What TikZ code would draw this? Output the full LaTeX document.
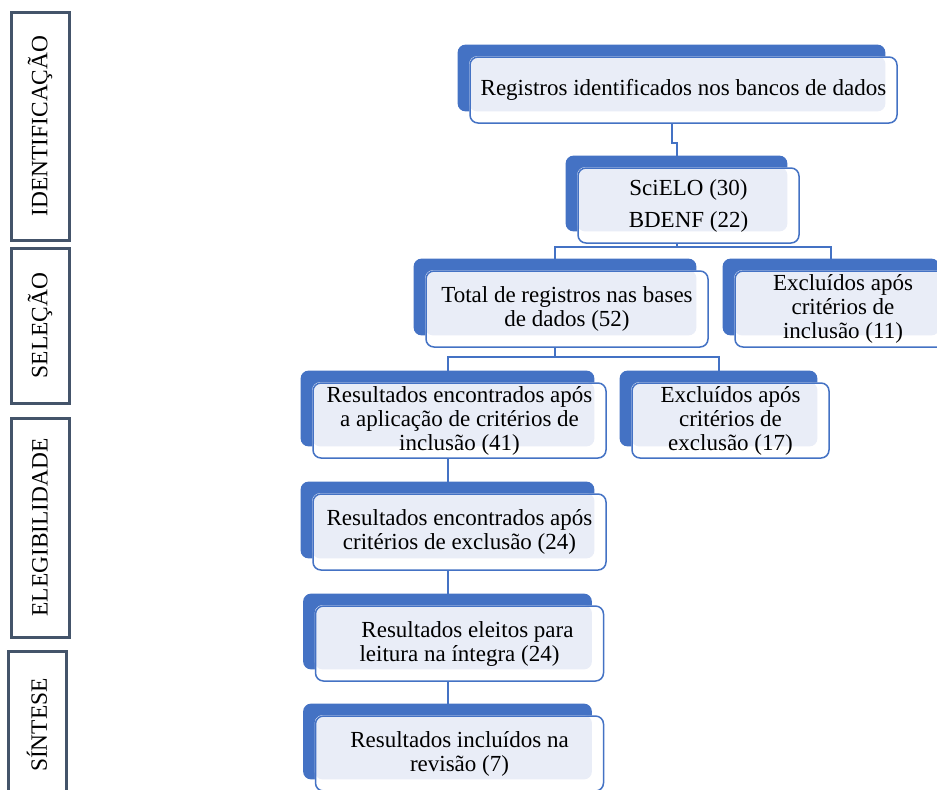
\documentclass[tikz,border=0pt]{standalone}
\usepackage{fontspec}
\setmainfont{Liberation Serif}
\usepackage{xcolor}
\usetikzlibrary{positioning}
\definecolor{boxblue}{HTML}{4472C4}
\definecolor{boxfill}{HTML}{E9EDF7}
\definecolor{slate}{HTML}{44546A}
\pgfdeclarelayer{background}
\pgfsetlayers{background,main}

\begin{document}
\begin{tikzpicture}[x=0.5pt,y=-0.5pt,
	front/.style={draw=boxblue,line width=0.75pt,rounded corners=4pt,align=center,inner sep=0pt,font=\fontsize{11.5}{12}\selectfont},
	back/.style={inner sep=0pt},
	phase/.style={draw=slate,line width=1.5pt,rotate=90,inner sep=0pt,minimum height=29pt,font=\fontsize{11.7}{12}\selectfont},
	link/.style={draw=boxblue,line width=1pt}]
	\useasboundingbox (0,0) rectangle (937,789);
	\clip (0,0) rectangle (937,789);
	% fases
		\node[phase,minimum width=114pt] (ident) at (40,126) {IDENTIFICAÇÃO};
		\node[phase,minimum width=77.5pt] (selec) at (40,325.5) {SELEÇÃO};
		\node[phase,minimum width=109.5pt] (eleg) at (40,527.5) {ELEGIBILIDADE};
		\node[phase,minimum width=74pt] (sint) at (37,725) {SÍNTESE};
	% caixas
		\node[back,minimum width=213.5pt,minimum height=33pt] (reg-b) at (671.5,78) {};
		\node[front,minimum width=213.5pt,minimum height=33pt] (reg) at (683.5,90) {Registros identificados nos bancos de dados};
		\node[back,minimum width=110.5pt,minimum height=37.5pt] (font-b) at (676.5,193.5) {};
		\node[front,minimum width=110.5pt,minimum height=37.5pt] (font) at (688.5,205.5) {SciELO (30)\\[4pt]BDENF (22)};
		\node[back,minimum width=141pt,minimum height=38pt] (total-b) at (555,297) {};
		\node[front,minimum width=141pt,minimum height=38pt] (total) at (567,309) {Total de registros nas bases\\de dados (52)};
		\node[back,minimum width=108pt,minimum height=38pt] (exinc-b) at (831,297) {};
		\node[front,minimum width=108pt,minimum height=38pt] (exinc) at (843,309) {Excluídos após\\critérios de\\inclusão (11)};
		\node[back,minimum width=146.5pt,minimum height=37.5pt] (aplic-b) at (447.5,408.5) {};
		\node[front,minimum width=146.5pt,minimum height=37.5pt] (aplic) at (459.5,420.5) {Resultados encontrados após\\a aplicação de critérios de\\inclusão (41)};
		\node[back,minimum width=98.5pt,minimum height=37.5pt] (exexc-b) at (718.5,408.5) {};
		\node[front,minimum width=98.5pt,minimum height=37.5pt] (exexc) at (730.5,420.5) {Excluídos após\\critérios de\\exclusão (17)};
		\node[back,minimum width=146.5pt,minimum height=38pt] (excl-b) at (447.5,520) {};
		\node[front,minimum width=146.5pt,minimum height=38pt] (excl) at (459.5,532) {Resultados encontrados após\\critérios de exclusão (24)};
		\node[back,minimum width=144pt,minimum height=37.5pt] (leit-b) at (447.5,631.5) {};
		\node[front,minimum width=144pt,minimum height=37.5pt] (leit) at (459.5,643.5) {\hspace*{8pt}Resultados eleitos para\\leitura na íntegra (24)};
		\node[back,minimum width=144pt,minimum height=37.5pt] (rev-b) at (447.5,741.5) {};
		\node[front,minimum width=144pt,minimum height=37.5pt] (rev) at (459.5,753.5) {Resultados incluídos na\\revisão (7)};
	\begin{pgfonlayer}{background}
		\draw[link] (reg-b.south) -- ++(0,32) -| (font-b.north);
		\draw[link] (font-b.south) -- ++(0,16) coordinate (split1);
		\draw[link] (total-b.north) |- (split1) -| (exinc-b.north);
		\draw[link] (total-b.south) -- ++(0,22) coordinate (split2);
		\draw[link] (aplic-b.north) |- (split2) -| (exexc-b.north);
		\draw[link] (aplic-b.south) -- (excl-b.north);
		\draw[link] (excl-b.south) -- (leit-b.north);
		\draw[link] (leit-b.south) -- (rev-b.north);
		\foreach \n in {reg,font,total,exinc,aplic,exexc,excl,leit,rev}{
			\fill[boxblue,rounded corners=4pt] (\n-b.north west) rectangle (\n-b.south east);
			\fill[white,rounded corners=4pt] (\n.north west) rectangle (\n.south east);
			\fill[boxfill,rounded corners=4pt] (\n.north west) rectangle (\n-b.south east);
		}
	\end{pgfonlayer}
\end{tikzpicture}
\end{document}
